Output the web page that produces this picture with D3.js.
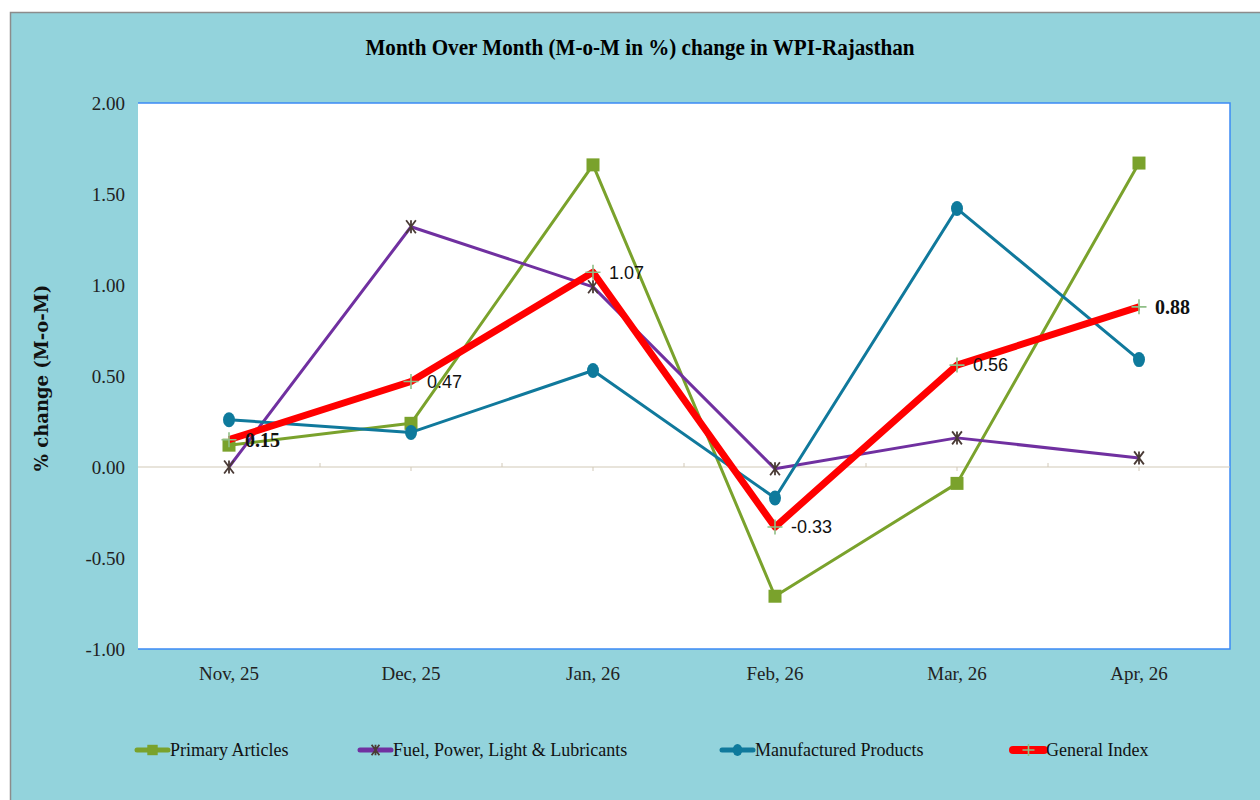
<!DOCTYPE html>
<html><head><meta charset="utf-8">
<script src="https://cdn.jsdelivr.net/npm/d3@7"></script>
<style>body{margin:0;background:#fff}svg{display:block}</style>
</head><body>
<svg id="c" width="1260" height="800"></svg>
<script>
const categories = ["Nov, 25","Dec, 25","Jan, 26","Feb, 26","Mar, 26","Apr, 26"];
const primaryArticles = [0.12, 0.24, 1.66, -0.71, -0.09, 1.67];
const fuelPower = [0.00, 1.32, 0.99, -0.01, 0.16, 0.05];
const manufactured = [0.26, 0.19, 0.53, -0.17, 1.42, 0.59];
const generalIndex = [0.15, 0.47, 1.07, -0.33, 0.56, 0.88];
const yTicks = [-1.00, -0.50, 0.00, 0.50, 1.00, 1.50, 2.00];
const seriesNames = ["Primary Articles","Fuel, Power, Light & Lubricants","Manufactured Products","General Index"];

const fmt = v => d3.format(".2f")(v).replace("\u2212","-");

const svg = d3.select("#c");
svg.append("rect").attr("x",10.5).attr("y",12.5).attr("width",1260).attr("height",800)
  .attr("fill","#93D3DC").attr("stroke","#8c8c8c").attr("stroke-width",1.5);

const L=138, R=1230, T=103, B=649;
const x = d3.scaleBand().domain(categories).range([L,R]);
const y = d3.scaleLinear().domain([-1,2]).range([B,T]);
const cx = d => x(d) + x.bandwidth()/2;

svg.append("rect").attr("x",L).attr("y",T).attr("width",R-L).attr("height",B-T).attr("fill","#fff");
svg.append("path").attr("d",`M${L},${T}H${R}V${B}H${L}`).attr("fill","none").attr("stroke","#3d8bf5").attr("stroke-width",1.5);

// title
svg.append("text").attr("transform","translate(640,55) scale(0.88,1)").attr("text-anchor","middle")
  .attr("font-family","Liberation Serif").attr("font-weight","bold").attr("font-size",24)
  .attr("fill","#000").text("Month Over Month (M-o-M in %) change in WPI-Rajasthan");

// y axis
const yAxis = d3.axisLeft(y).tickValues(yTicks).tickFormat(fmt).tickSize(0).tickPadding(13);
const ga = svg.append("g").attr("transform",`translate(${L},0)`).call(yAxis);
ga.select(".domain").remove();
ga.selectAll("text").attr("font-family","Liberation Serif").attr("font-size",19).attr("fill","#222");

svg.append("text").attr("transform",`translate(48,378) rotate(-90)`).attr("text-anchor","middle")
  .attr("font-family","DejaVu Serif").attr("font-weight","bold").attr("font-size",18)
  .attr("fill","#111").text("% change (M-o-M)");

// zero line + ticks
const y0 = y(0);
svg.append("line").attr("x1",L).attr("x2",R).attr("y1",y0).attr("y2",y0).attr("stroke","#d2c9b8").attr("stroke-width",1.2);
categories.forEach((c,i)=>{
  svg.append("line").attr("x1",cx(c)).attr("x2",cx(c)).attr("y1",y0).attr("y2",y0+4).attr("stroke","#d2c9b8");
  if(i>0) svg.append("line").attr("x1",x(c)).attr("x2",x(c)).attr("y1",y0).attr("y2",y0-4).attr("stroke","#d2c9b8");
});

// x labels
const xAxis = d3.axisBottom(x).tickSize(0).tickPadding(18);
const gx = svg.append("g").attr("transform",`translate(0,${B})`).call(xAxis);
gx.select(".domain").remove();
gx.selectAll("text").attr("font-family","Liberation Serif").attr("font-size",19).attr("fill","#222");

const line = d3.line().x((d,i)=>cx(categories[i])).y(d=>y(d));

function drawMarker(g, kind, px, py, sc){
  sc = sc || 1;
  if(kind==="square"){
    const h=6.5*sc;
    g.append("rect").attr("x",px-h).attr("y",py-h).attr("width",2*h).attr("height",2*h).attr("fill","#7aa22c");
  } else if(kind==="star"){
    const s=6.5*sc;
    g.append("path").attr("d",`M${px-s*0.75},${py-s}L${px+s*0.75},${py+s}M${px+s*0.75},${py-s}L${px-s*0.75},${py+s}M${px},${py-s}L${px},${py+s}`)
      .attr("stroke","#4a3b36").attr("stroke-width",1.8).attr("fill","none");
  } else if(kind==="circle"){
    g.append("ellipse").attr("cx",px).attr("cy",py).attr("rx",6*sc).attr("ry",7.5*sc).attr("fill","#0e7a9c");
  } else if(kind==="plus"){
    const s=7.5*sc;
    g.append("path").attr("d",`M${px-s},${py}H${px+s}M${px},${py-s}V${py+s}`)
      .attr("stroke","#8fbf86").attr("stroke-width",1.6).attr("fill","none");
  }
}

const series = [
  {name:seriesNames[0], data:primaryArticles, color:"#7aa22c", w:3, marker:"square"},
  {name:seriesNames[1], data:fuelPower, color:"#7030a0", w:3, marker:"star"},
  {name:seriesNames[2], data:manufactured, color:"#10799c", w:3, marker:"circle"},
  {name:seriesNames[3], data:generalIndex, color:"#ff0000", w:7, marker:"plus"}
];

series.forEach(s=>{
  const g = svg.append("g");
  g.append("path").attr("d",line(s.data)).attr("fill","none").attr("stroke",s.color)
    .attr("stroke-width",s.w).attr("stroke-linejoin","round");
  s.data.forEach((v,i)=>drawMarker(g,s.marker,cx(categories[i]),y(v)));
});

// data labels for general index
generalIndex.forEach((v,i)=>{
  const bold = (i===0 || i===5);
  svg.append("text").attr("x",cx(categories[i])+16).attr("y",y(v)).attr("dy","0.35em")
    .attr("font-family", bold ? "Liberation Serif" : "Liberation Sans")
    .attr("font-weight", bold ? "bold":"normal").attr("font-size", bold?20:18).attr("fill","#111")
    .text(fmt(v));
});

// legend
const legX = [137, 360, 722, 1013];
series.forEach((s,i)=>{
  const g = svg.append("g");
  const x1=legX[i], x2=legX[i]+31, ly=750;
  g.append("line").attr("x1",x1).attr("x2",x2).attr("y1",ly).attr("y2",ly).attr("stroke",s.color)
    .attr("stroke-width",s.w===7?8:5).attr("stroke-linecap","round");
  drawMarker(g,s.marker,(x1+x2)/2,ly,0.8);
  g.append("text").attr("x",x2+2).attr("y",ly).attr("dy","0.35em").attr("font-family","Liberation Serif")
    .attr("font-size",18).attr("fill","#111").text(s.name);
});
</script>
</body></html>
